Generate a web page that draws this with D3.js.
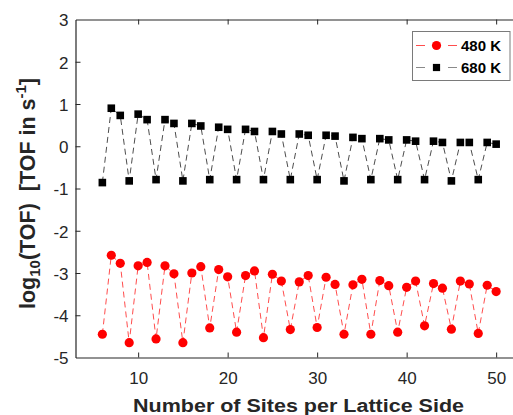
<!DOCTYPE html>
<html>
<head>
<meta charset="utf-8">
<script src="https://cdn.jsdelivr.net/npm/d3@7"></script>
<style>
  html, body { margin: 0; padding: 0; background: #fff; }
  svg { display: block; font-family: "Liberation Sans", Arial, sans-serif; }
</style>
</head>
<body>
<svg id="chart" width="513" height="415"></svg>
<script>
// Lattice side lengths (sites per side)
const sites = d3.range(6, 51);

// log10(TOF) at 480 K
const tof480 = [
  -4.45, -2.58, -2.77, -4.65, -2.83, -2.75, -4.56, -2.83, -3.02, -4.65,
  -3.00, -2.85, -4.30, -2.92, -3.09, -4.40, -3.06, -2.95, -4.53, -3.03,
  -3.19, -4.34, -3.21, -3.06, -4.29, -3.10, -3.27, -4.45, -3.28, -3.15,
  -4.45, -3.18, -3.30, -4.40, -3.34, -3.19, -4.25, -3.25, -3.36, -4.33,
  -3.19, -3.26, -4.43, -3.29, -3.44
];

// log10(TOF) at 680 K
const tof680 = [
  -0.86, 0.90, 0.73, -0.82, 0.76, 0.63, -0.79, 0.63, 0.54, -0.82,
  0.54, 0.48, -0.79, 0.45, 0.40, -0.79, 0.40, 0.35, -0.79, 0.35,
  0.29, -0.79, 0.29, 0.26, -0.79, 0.26, 0.24, -0.82, 0.21, 0.18,
  -0.79, 0.18, 0.15, -0.79, 0.15, 0.12, -0.79, 0.12, 0.09, -0.82,
  0.09, 0.09, -0.79, 0.09, 0.05
];

const xTicks = [10, 20, 30, 40, 50];
const yTicks = [-5, -4, -3, -2, -1, 0, 1, 2, 3];
const legendLabels = ["480 K", "680 K"];

const svg = d3.select("#chart");
const plotLeft = 75.5, plotTop = 19.5, plotBottom = 357.5;
const x = d3.scaleLinear().domain([3, 53]).range([plotLeft, plotLeft + 50 * 8.95]);
const y = d3.scaleLinear().domain([-5, 3]).range([plotBottom, plotTop]);
const plotRight = x(53);

const axisColor = "#262626";
const tickLen = 5;
const fmt = d => String(d); // plain hyphen-minus in tick labels

// Axes box
const g = svg.append("g");
const axB = g.append("g").attr("transform", `translate(0,${plotBottom})`)
  .call(d3.axisBottom(x).tickValues(xTicks).tickFormat(fmt).tickSizeInner(-tickLen).tickSizeOuter(0).tickPadding(14));
const axT = g.append("g").attr("transform", `translate(0,${plotTop})`)
  .call(d3.axisTop(x).tickValues(xTicks).tickSizeInner(-tickLen).tickSizeOuter(0).tickFormat(""));
const axL = g.append("g").attr("transform", `translate(${plotLeft},0)`)
  .call(d3.axisLeft(y).tickValues(yTicks).tickFormat(fmt).tickSizeInner(-tickLen).tickSizeOuter(0).tickPadding(7));
const axR = g.append("g").attr("transform", `translate(${plotRight},0)`)
  .call(d3.axisRight(y).tickValues(yTicks).tickSizeInner(-tickLen).tickSizeOuter(0).tickFormat(""));

[axB, axT, axL, axR].forEach(a => {
  a.select(".domain").attr("stroke", axisColor).attr("stroke-width", 1.2);
  a.selectAll(".tick line").attr("stroke", axisColor).attr("stroke-width", 1);
  a.selectAll(".tick text").attr("fill", axisColor).attr("font-size", 17)
    .attr("font-family", "Liberation Sans, Arial, sans-serif");
});
axL.selectAll(".tick text").attr("dy", "0.38em");
// no tick marks at the box corners
axL.selectAll(".tick").filter(d => d === 3 || d === -5).select("line").remove();
axR.selectAll(".tick").filter(d => d === 3 || d === -5).select("line").remove();

// Series
const line = d3.line().x(d => x(d[0])).y(d => y(d[1]));
const s480 = sites.map((s, i) => [s, tof480[i]]);
const s680 = sites.map((s, i) => [s, tof680[i]]);

svg.append("path").datum(s480).attr("d", line)
  .attr("fill", "none").attr("stroke", "#ff4d4d").attr("stroke-width", 1)
  .attr("stroke-dasharray", "6,4");
svg.append("g").selectAll("circle").data(s480).join("circle")
  .attr("cx", d => x(d[0])).attr("cy", d => y(d[1])).attr("r", 4.6)
  .attr("fill", "#ff0000");

svg.append("path").datum(s680).attr("d", line)
  .attr("fill", "none").attr("stroke", "#4d4d4d").attr("stroke-width", 1)
  .attr("stroke-dasharray", "6,4");
const sq = 7.6;
svg.append("g").selectAll("rect").data(s680).join("rect")
  .attr("x", d => x(d[0]) - sq / 2).attr("y", d => y(d[1]) - sq / 2)
  .attr("width", sq).attr("height", sq).attr("fill", "#000");

// Legend
const lg = svg.append("g");
lg.append("rect").attr("x", 412.5).attr("y", 31.5).attr("width", 97.5).attr("height", 49)
  .attr("fill", "#fff").attr("stroke", "#7a7a7a").attr("stroke-width", 1);
const rows = [
  { label: legendLabels[0], color: "#ff4d4d", y: 45.5, marker: "circle" },
  { label: legendLabels[1], color: "#8a8a8a", y: 67.5, marker: "square" }
];
rows.forEach(r => {
  [[416, 425], [448, 457]].forEach(([a, b]) => {
    lg.append("line").attr("x1", a).attr("x2", b).attr("y1", r.y).attr("y2", r.y)
      .attr("stroke", r.color).attr("stroke-width", 1);
  });
  if (r.marker === "circle") {
    lg.append("circle").attr("cx", 436.5).attr("cy", r.y).attr("r", 4.6).attr("fill", "#ff0000");
  } else {
    lg.append("rect").attr("x", 436.5 - 3.6).attr("y", r.y - 3.6).attr("width", 7.2).attr("height", 7.2).attr("fill", "#000");
  }
  lg.append("text").attr("x", 461).attr("y", r.y + 5.5).attr("font-size", 15).attr("font-weight", "bold")
    .attr("fill", "#000").text(r.label);
});

// Axis titles
svg.append("text").attr("x", 298.5).attr("y", 411.5)
  .attr("text-anchor", "middle").attr("font-size", 18).attr("font-weight", "bold").attr("fill", axisColor)
  .attr("textLength", 331).attr("lengthAdjust", "spacingAndGlyphs")
  .text("Number of Sites per Lattice Side");

const yl = svg.append("text")
  .attr("transform", `translate(34.5,193.5) rotate(-90)`)
  .attr("text-anchor", "middle").attr("font-size", 21.5).attr("font-weight", "bold").attr("fill", axisColor);
yl.append("tspan").text("log");
yl.append("tspan").attr("font-size", 15).attr("dy", 5).text("10");
yl.append("tspan").attr("dy", -5).text("(TOF)\u00a0\u00a0[TOF in s");
yl.append("tspan").attr("font-size", 15).attr("dy", -9).text("-1");
yl.append("tspan").attr("dy", 9).text("]");
</script>
</body>
</html>
